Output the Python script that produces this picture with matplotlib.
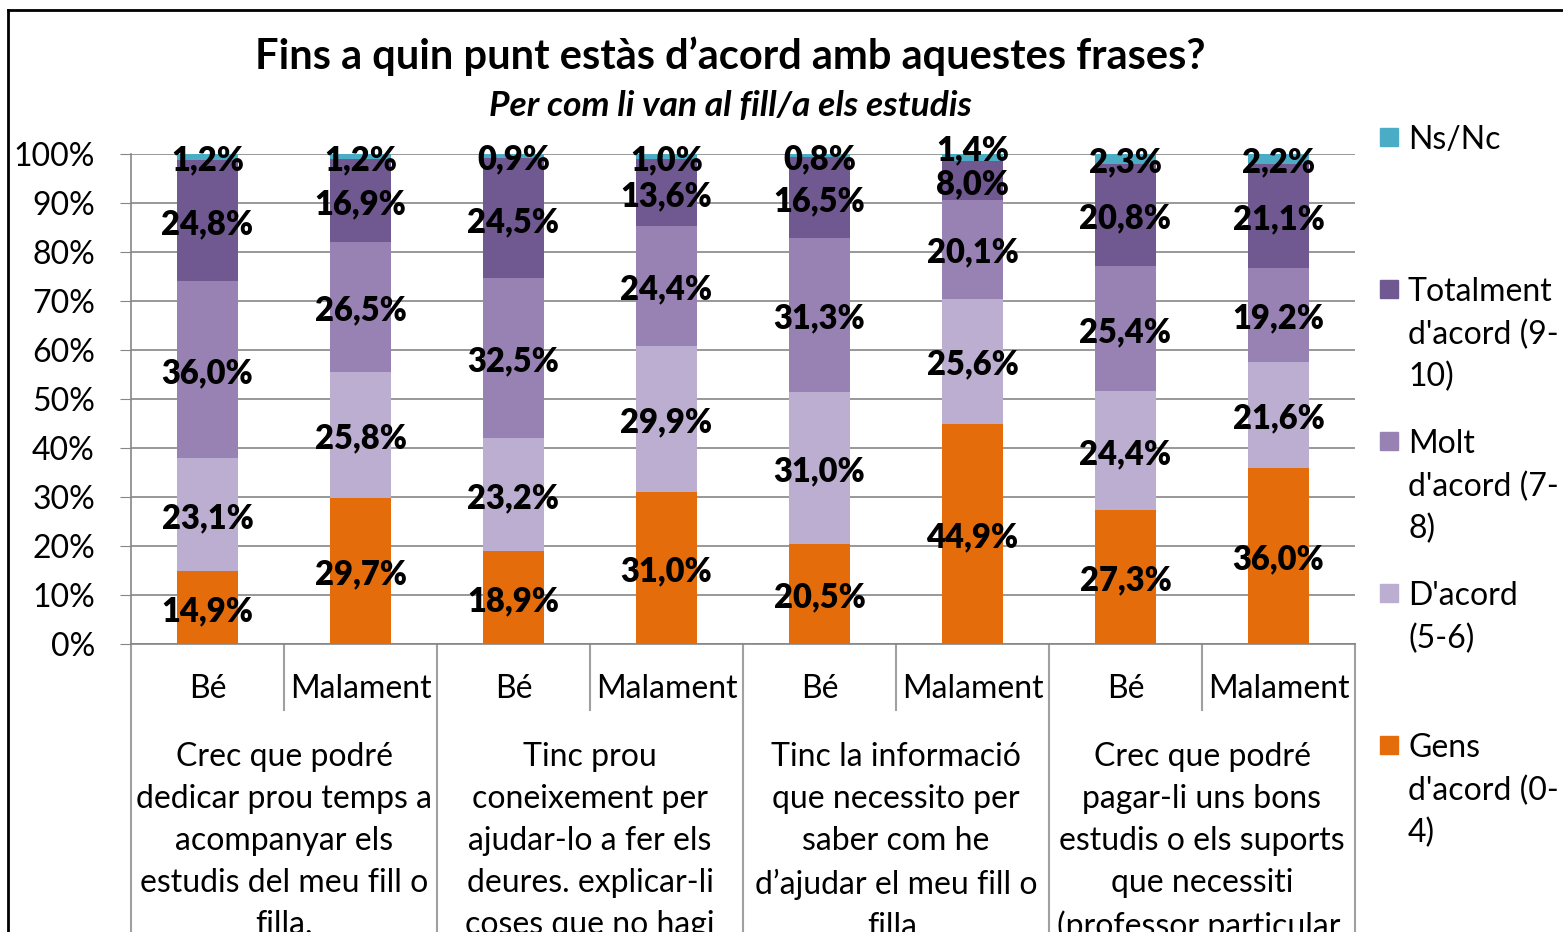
import matplotlib
matplotlib.use("Agg")
import matplotlib.pyplot as plt
from matplotlib.patches import Rectangle
from matplotlib.lines import Line2D

plt.rcParams['font.family'] = ['Lato', 'DejaVu Sans']

# ---------------- data ----------------
sub_labels = ["Bé", "Malament", "Bé", "Malament", "Bé", "Malament", "Bé", "Malament"]
group_labels = [
    "Crec que podré\ndedicar prou temps a\nacompanyar els\nestudis del meu fill o\nfilla.",
    "Tinc prou\nconeixement per\najudar-lo a fer els\ndeures. explicar-li\ncoses que no hagi",
    "Tinc la informació\nque necessito per\nsaber com he\nd’ajudar el meu fill o\nfilla.",
    "Crec que podré\npagar-li uns bons\nestudis o els suports\nque necessiti\n(professor particular,",
]
series_names = ["Gens d'acord (0-4)", "D'acord (5-6)", "Molt d'acord (7-8)",
                "Totalment d'acord (9-10)", "Ns/Nc"]
legend_texts = ["Gens\nd'acord (0-\n4)", "D'acord\n(5-6)", "Molt\nd'acord (7-\n8)",
                "Totalment\nd'acord (9-\n10)", "Ns/Nc"]
gens = [14.9, 29.7, 18.9, 31.0, 20.5, 44.9, 27.3, 36.0]
dacord = [23.1, 25.8, 23.2, 29.9, 31.0, 25.6, 24.4, 21.6]
molt = [36.0, 26.5, 32.5, 24.4, 31.3, 20.1, 25.4, 19.2]
totalment = [24.8, 16.9, 24.5, 13.6, 16.5, 8.0, 20.8, 21.1]
nsnc = [1.2, 1.2, 0.9, 1.0, 0.8, 1.4, 2.3, 2.2]
series = [gens, dacord, molt, totalment, nsnc]
colors = ["#E46C0A", "#BCAED0", "#9882B4", "#705891", "#4BACC6"]
yticks = [0, 10, 20, 30, 40, 50, 60, 70, 80, 90, 100]

title = "Fins a quin punt estàs d’acord amb aquestes frases?"
subtitle = "Per com li van al fill/a els estudis"

# ---------------- figure ----------------
W, H = 1563, 932
fig = plt.figure(figsize=(W / 100, H / 100), dpi=100)
fig.patch.set_facecolor("white")

def fy(p):
    return 1 - p / H

def fx(p):
    return p / W

x0, x1, ytop, ybot = 131, 1355, 154, 644
ax = fig.add_axes([fx(x0), fy(ybot), (x1 - x0) / W, (ybot - ytop) / H])

n = len(sub_labels)
xs = list(range(n))
bottom = [0.0] * n
prev = None
for vals, col in zip(series, colors):
    cont = ax.bar(xs, vals, width=0.4, bottom=bottom, color=col, zorder=3)
    anns = ax.bar_label(cont, labels=[f"{v:.1f}".replace(".", ",") + "%" for v in vals],
                        label_type="center", fontsize=23.5, fontweight="heavy",
                        color="black", zorder=5)
    for i, a in enumerate(anns):
        dy = -2.5
        # push the top label up when the segment below it is thin
        if prev is not None and vals[i] < 3 and prev[i] < 10:
            dy = 5
        a.xyann = (a.xyann[0], a.xyann[1] + dy)
    bottom = [b + v for b, v in zip(bottom, vals)]
    prev = vals

ax.set_xlim(-0.5, n - 0.5)
ax.set_ylim(0, 100)
ax.set_yticks(yticks)
ax.set_yticklabels([f"{t}%" for t in yticks], fontsize=23)
ax.tick_params(axis="y", length=8, color="#868686", pad=18)
ax.set_xticks([])
ax.yaxis.grid(True, color="#868686", linewidth=1.2, zorder=0)
for s in ["top", "right"]:
    ax.spines[s].set_visible(False)
ax.spines["left"].set_color("#868686")
ax.spines["bottom"].set_color("#868686")
ax.spines["left"].set_linewidth(1.2)
ax.spines["bottom"].set_linewidth(1.2)

# category separators and labels
axh = ybot - ytop
trans = ax.get_xaxis_transform()
def ay(p):
    return (ybot - p) / axh

for i in range(n + 1):
    xb = i - 0.5
    if i % 2 == 0:
        y_end = ay(1000)
    else:
        y_end = ay(710)
    ax.add_line(Line2D([xb, xb], [0, y_end], transform=trans, color="#A0A0A0",
                       linewidth=1.5, clip_on=False))

for i, lab in enumerate(sub_labels):
    ax.text(i, ay(689), lab, transform=trans, ha="center", va="center", fontsize=23)

for g, lab in enumerate(group_labels):
    ax.text(2 * g + 0.5, ay(742), lab, transform=trans, ha="center", va="top",
            fontsize=23, linespacing=1.5)

# title
fig.text(fx(730), fy(56), title, ha="center", va="center", fontsize=30, fontweight="bold")
fig.text(fx(730), fy(106), subtitle, ha="center", va="center", fontsize=25.5,
         fontweight="bold", fontstyle="italic")

# legend (manual, Excel-like equal spacing)
leg_tops = [745, 593, 441, 289, 137]
for txt, col, yc in zip(legend_texts, colors, leg_tops):
    fig.add_artist(Rectangle((fx(1380), fy(yc + 9)), 18 / W, 18 / H,
                             transform=fig.transFigure, color=col))
    fig.text(fx(1408), fy(yc - 12), txt, ha="left", va="top", fontsize=23,
             linespacing=1.5)

# outer frame (top and left visible)
fig.add_artist(Line2D([fx(8), fx(8)], [fy(10), fy(H + 10)], transform=fig.transFigure,
                      color="black", linewidth=2))
fig.add_artist(Line2D([fx(8), fx(W + 10)], [fy(10), fy(10)], transform=fig.transFigure,
                      color="black", linewidth=2))

fig.savefig("out.png", dpi=100, facecolor="white")
